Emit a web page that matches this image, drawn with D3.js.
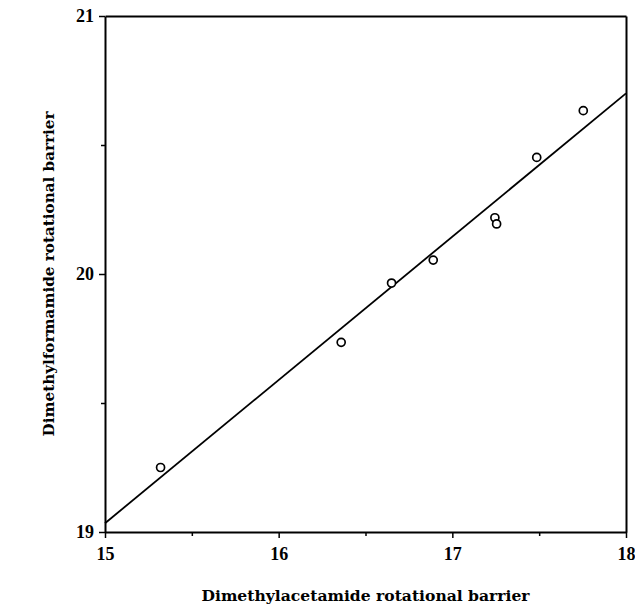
<!DOCTYPE html>
<html>
<head>
<meta charset="utf-8">
<script src="https://cdn.jsdelivr.net/npm/d3@7"></script>
<style>
  body { margin: 0; background: #fff; }
  svg text { font-family: "Liberation Serif", "Times New Roman", serif; font-weight: bold; fill: #000; }
  svg text.title { font-family: "DejaVu Serif", "Liberation Serif", serif; }
  .axis path, .axis line { stroke: #000; }
</style>
</head>
<body>
<svg id="chart"></svg>
<script>
// measured points (acetamide barrier vs formamide barrier)
const dmaBarrier = [15.32, 16.36, 16.65, 16.89, 17.245, 17.255, 17.486, 17.754];
const dmfBarrier = [19.25, 19.735, 19.965, 20.054, 20.218, 20.194, 20.452, 20.633];

// fitted line end points
const fitX = [15, 18];
const fitY = [19.034, 20.70];

const xTicks = [15, 16, 17, 18];
const xMinorTicks = [15.5, 16.5, 17.5];
const yTicks = [19, 20, 21];
const yMinorTicks = [19.5, 20.5];

const xLabel = "Dimethylacetamide rotational barrier";
const yLabel = "Dimethylformamide rotational barrier";

const config = {
    width: 635,
    height: 605,
    margin: {top: 16, right: 9, bottom: 73, left: 105}
};

const innerW = config.width - config.margin.left - config.margin.right;
const innerH = config.height - config.margin.top - config.margin.bottom;

const svg = d3.select('#chart')
    .attr('width', config.width)
    .attr('height', config.height);

const chart = svg.append('g')
    .attr('transform', `translate(${config.margin.left},${config.margin.top})`);

const xScale = d3.scaleLinear().domain([15, 18]).range([0, innerW]);
const yScale = d3.scaleLinear().domain([19, 21]).range([innerH, 0]);

// minor ticks first so the main axis line sits on top
chart.append('g')
    .attr('class', 'axis')
    .attr('transform', `translate(0,${innerH})`)
    .call(d3.axisBottom(xScale).tickValues(xMinorTicks).tickSize(4).tickFormat(''))
    .call(g => g.select('.domain').remove())
    .selectAll('line').attr('stroke-width', 1.5);

chart.append('g')
    .attr('class', 'axis')
    .call(d3.axisLeft(yScale).tickValues(yMinorTicks).tickSize(4).tickFormat(''))
    .call(g => g.select('.domain').remove())
    .selectAll('line').attr('stroke-width', 1.5);

// main axes
const xAxisG = chart.append('g')
    .attr('class', 'axis')
    .attr('transform', `translate(0,${innerH})`)
    .call(d3.axisBottom(xScale).tickValues(xTicks).tickSize(6).tickSizeOuter(0).tickPadding(9).tickFormat(d3.format('d')));
xAxisG.selectAll('text').style('font-size', '18px');
xAxisG.selectAll('line').attr('stroke-width', 1.5);
xAxisG.select('.domain').attr('stroke-width', 2);

const yAxisG = chart.append('g')
    .attr('class', 'axis')
    .call(d3.axisLeft(yScale).tickValues(yTicks).tickSize(6).tickSizeOuter(0).tickPadding(5).tickFormat(d3.format('d')));
yAxisG.selectAll('text').style('font-size', '18px');
yAxisG.selectAll('line').attr('stroke-width', 1.5);
yAxisG.select('.domain').attr('stroke-width', 2);

// top and right frame
chart.append('g')
    .attr('class', 'axis')
    .call(d3.axisTop(xScale).tickValues([]).tickSizeOuter(0))
    .select('.domain').attr('stroke-width', 2);
chart.append('g')
    .attr('class', 'axis')
    .attr('transform', `translate(${innerW},0)`)
    .call(d3.axisRight(yScale).tickValues([]).tickSizeOuter(0))
    .select('.domain').attr('stroke-width', 2);

// regression line
const line = d3.line()
    .x(d => xScale(d[0]))
    .y(d => yScale(d[1]));
chart.append('path')
    .datum(d3.zip(fitX, fitY))
    .attr('d', line)
    .attr('fill', 'none')
    .attr('stroke', '#000')
    .attr('stroke-width', 1.8);

// points
chart.selectAll('circle')
    .data(d3.zip(dmaBarrier, dmfBarrier))
    .join('circle')
    .attr('cx', d => xScale(d[0]))
    .attr('cy', d => yScale(d[1]))
    .attr('r', 4)
    .attr('fill', '#fff')
    .attr('stroke', '#000')
    .attr('stroke-width', 1.7);

// axis titles
svg.append('text')
    .attr('class', 'title')
    .attr('x', config.margin.left + innerW / 2)
    .attr('y', 601)
    .attr('text-anchor', 'middle')
    .attr('textLength', 328)
    .attr('lengthAdjust', 'spacingAndGlyphs')
    .style('font-size', '15px')
    .text(xLabel);

svg.append('text')
    .attr('class', 'title')
    .attr('transform', `translate(54,${config.margin.top + innerH / 2}) rotate(-90)`)
    .attr('text-anchor', 'middle')
    .attr('textLength', 325)
    .attr('lengthAdjust', 'spacingAndGlyphs')
    .style('font-size', '15px')
    .text(yLabel);
</script>
</body>
</html>
